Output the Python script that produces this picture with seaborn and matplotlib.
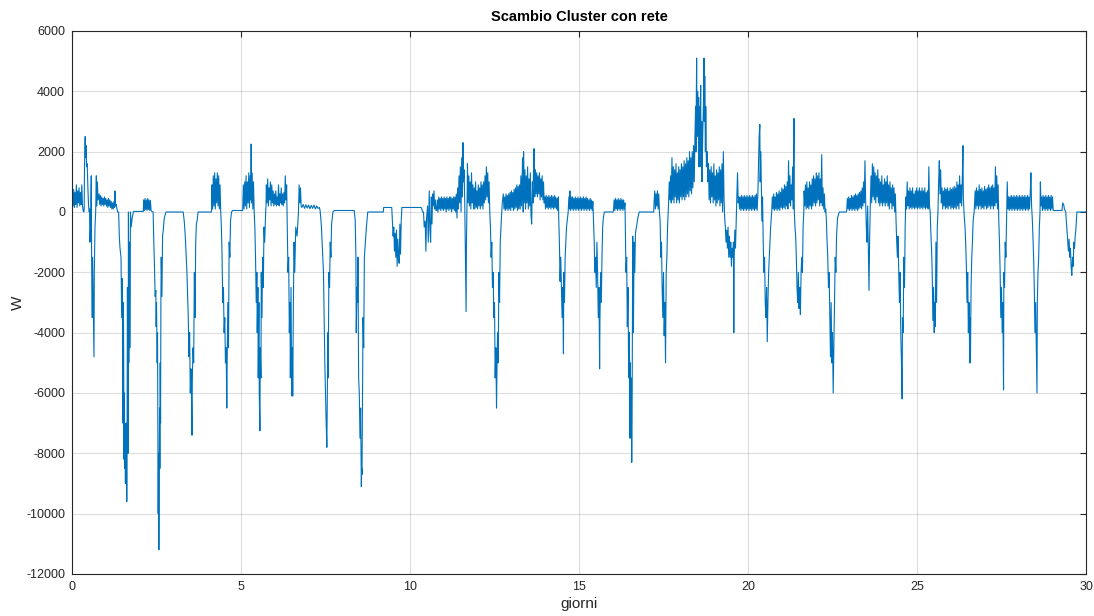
import numpy as np
import pandas as pd
import matplotlib
matplotlib.use("Agg")
import matplotlib.pyplot as plt
import seaborn as sns

# Scambio di potenza del cluster con la rete: (giorno, W)
sett1 = [
    (0.00, 300), (0.01, 700), (0.03, 200), (0.05, 750), (0.07, 150), (0.09, 650), (0.11, 250), (0.13, 900),
    (0.15, 150), (0.17, 700), (0.19, 300), (0.21, 800), (0.23, 200), (0.25, 650), (0.27, 250), (0.29, 900),
    (0.31, 200), (0.33, 50), (0.35, 0), (0.36, 100), (0.37, 1500), (0.39, 2500), (0.40, 1800), (0.42, 2200),
    (0.43, 1500), (0.45, 1600), (0.47, 800), (0.49, 200), (0.51, 0), (0.52, 100), (0.53, -1000), (0.55, -500),
    (0.57, 1200), (0.58, -1500), (0.60, -3500), (0.61, -1500), (0.63, -3200), (0.65, -4800), (0.66, -2000),
    (0.68, -500), (0.70, 0), (0.72, 1200), (0.73, 200), (0.75, 1000), (0.77, 400), (0.80, 600), (0.82, 250),
    (0.84, 550), (0.86, 200), (0.88, 500), (0.90, 250), (0.92, 450), (0.94, 200), (0.96, 500), (0.98, 250),
    (1.00, 450), (1.02, 200), (1.04, 400), (1.06, 150), (1.08, 450), (1.10, 200), (1.12, 400), (1.14, 150),
    (1.16, 350), (1.18, 100), (1.20, 300), (1.22, 100), (1.24, 350), (1.26, 150), (1.27, 700), (1.29, 200),
    (1.31, 250), (1.33, 100), (1.35, 0), (1.38, 0), (1.40, -800), (1.42, -1200), (1.45, -1500), (1.47, -3500),
    (1.49, -2200), (1.51, -7000), (1.52, -3000), (1.53, -5000), (1.54, -8200), (1.55, -6000), (1.56, -8500),
    (1.57, -7000), (1.58, -9000), (1.59, -7500), (1.60, -8800), (1.61, -7000), (1.62, -9600), (1.63, -7000),
    (1.64, -2500), (1.65, -6000), (1.66, -8000), (1.67, 0), (1.68, -5000), (1.70, -1000),
    (1.71, -4500), (1.73, 0), (1.75, -500), (1.78, -200), (1.82, 20), (2.11, 20), (2.12, 400), (2.14, 50),
    (2.16, 450), (2.18, 80), (2.20, 400), (2.22, 50), (2.24, 450), (2.26, 80), (2.28, 400), (2.30, 50),
    (2.32, 380), (2.34, 50), (2.36, 20), (2.40, 0), (2.42, -1000), (2.44, -1800), (2.46, -2800), (2.48, -2600),
    (2.49, -3800), (2.50, -3000), (2.52, -5000), (2.53, -4000), (2.54, -7000), (2.55, -10000), (2.56, -8000),
    (2.57, -11200), (2.58, -9000), (2.59, -6500), (2.60, -8500), (2.61, -5000), (2.62, -7000), (2.63, -3000),
    (2.64, -1500), (2.66, -2800), (2.68, -800), (2.70, -600), (2.73, -200), (2.78, 0), (3.29, 0), (3.32, -300),
    (3.34, -600), (3.36, -1000), (3.38, -1500), (3.40, -2000), (3.42, -2800), (3.44, -3500), (3.46, -4800),
    (3.48, -4000), (3.50, -6000), (3.52, -5200), (3.54, -6500), (3.55, -7400), (3.56, -5500), (3.58, -4500),
    (3.60, -5000), (3.62, -2000), (3.64, -3500), (3.66, -1000), (3.68, -400), (3.70, -300), (3.73, 0),
    (4.12, 0), (4.13, 50), (4.14, 900), (4.16, 100), (4.18, 1200), (4.20, 200), (4.22, 1300), (4.24, 100),
    (4.26, 1100), (4.28, 300), (4.30, 1300), (4.32, 200), (4.34, 1200), (4.36, 100), (4.38, 900), (4.40, 0),
    (4.42, -500), (4.44, -1500), (4.46, -3000), (4.48, -2500), (4.50, -4000), (4.52, -3500), (4.54, -5000),
    (4.56, -4500), (4.58, -6500), (4.59, -5000), (4.61, -3000), (4.63, -4500), (4.65, -1000), (4.67, -1500),
    (4.69, -300), (4.72, 0), (4.75, 50), (5.05, 50),
]

sett2 = [
    (5.07, 900), (5.09, 100), (5.11, 1000), (5.13, 200), (5.15, 1200), (5.17, 100), (5.19, 1000), (5.21, 300),
    (5.23, 1300), (5.25, 150), (5.27, 1200), (5.29, 400), (5.30, 2250), (5.31, 300), (5.33, 1300), (5.35, 100),
    (5.37, 1000), (5.39, 0), (5.41, -500), (5.43, -1500), (5.45, -3000), (5.47, -2000), (5.48, -4000),
    (5.50, -2500), (5.51, -5500), (5.53, -3000), (5.54, -6000), (5.56, -7250), (5.57, -4500), (5.59, -5500),
    (5.60, -2000), (5.62, -3500), (5.64, -1500), (5.66, -2500), (5.68, -500), (5.70, -1000), (5.73, 0),
    (5.74, 200), (5.75, 900), (5.77, 300), (5.79, 1100), (5.81, 200), (5.83, 800), (5.85, 400), (5.87, 1000),
    (5.89, 200), (5.91, 900), (5.93, 300), (5.95, 700), (5.97, 200), (5.99, 600), (6.01, 250), (6.03, 700),
    (6.05, 200), (6.07, 500), (6.09, 250), (6.11, 900), (6.13, 200), (6.15, 600), (6.17, 300), (6.19, 800),
    (6.21, 250), (6.23, 600), (6.25, 200), (6.27, 650), (6.29, 300), (6.31, 1200), (6.33, 400), (6.35, 900),
    (6.37, -500), (6.39, -2000), (6.41, -1500), (6.43, -4000), (6.45, -3000), (6.46, -5500), (6.48, -2500),
    (6.50, -6100), (6.52, -4500), (6.53, -6100), (6.55, -3000), (6.57, -1000), (6.59, -2000), (6.62, -500),
    (6.66, -800), (6.70, 0), (6.72, 900), (6.74, 300), (6.76, 800), (6.78, 200), (6.80, 150), (6.84, 250),
    (6.88, 120), (6.92, 240), (6.96, 130), (7.00, 230), (7.04, 110), (7.08, 220), (7.12, 120), (7.16, 230),
    (7.20, 100), (7.24, 200), (7.28, 120), (7.32, 150), (7.34, 50), (7.36, -200), (7.38, -500), (7.40, -1000),
    (7.42, -1500), (7.44, -2000), (7.46, -3500), (7.48, -5000), (7.50, -6000), (7.52, -7000), (7.54, -7800),
    (7.55, -6500), (7.57, -4000), (7.58, -5500), (7.60, -2000), (7.62, -2500), (7.64, -1000), (7.66, -1500),
    (7.68, -400), (7.72, 0), (7.76, 50), (8.35, 50), (8.38, -300), (8.40, -1500), (8.41, -4000), (8.43, -2500),
    (8.45, -3000), (8.46, -1500), (8.48, -5500), (8.50, -6000), (8.52, -7500), (8.54, -6500), (8.56, -9100),
    (8.57, -8500), (8.58, -8700), (8.60, -5000), (8.61, -3500), (8.63, -4500), (8.65, -1500), (8.68, -1000),
    (8.71, -500), (8.75, 0), (9.21, 0), (9.22, 150), (9.46, 150), (9.48, -300), (9.50, -800), (9.52, -500),
    (9.54, -1300), (9.56, -700), (9.58, -1500), (9.60, -600), (9.62, -1800), (9.64, -900), (9.66, -1500),
    (9.68, -1700), (9.70, -400), (9.72, -1400), (9.74, -300), (9.76, 150), (10.33, 150),
]

sett3 = [
    (10.35, 100), (10.37, 0), (10.40, 0), (10.42, -500), (10.45, -300), (10.47, -1300), (10.49, -200),
    (10.52, 200), (10.54, -1000), (10.57, 700), (10.59, -600), (10.61, -1000), (10.63, 500), (10.65, -400),
    (10.67, 600), (10.69, 200), (10.71, 700), (10.73, 100), (10.75, 400), (10.77, 50), (10.79, 50),
    (10.81, 400), (10.83, 0), (10.85, 500), (10.87, 100), (10.89, 450), (10.91, 50), (10.93, 500), (10.95, 100),
    (10.97, 450), (10.99, 50), (11.01, 500), (11.03, 100), (11.05, 450), (11.07, 0), (11.09, 500), (11.11, 100),
    (11.13, 450), (11.15, 50), (11.17, 500), (11.19, 100), (11.21, 500), (11.23, 0), (11.25, 450), (11.27, 100),
    (11.29, 500), (11.31, 50), (11.33, 500), (11.35, 0), (11.37, 600), (11.39, -200), (11.41, 800),
    (11.43, 100), (11.45, 1200), (11.47, 300), (11.49, 1500), (11.51, 0), (11.53, 1800), (11.55, 500),
    (11.57, 2300), (11.58, 1000), (11.60, 1400), (11.62, 300), (11.64, -1500), (11.66, -3300), (11.67, -1000),
    (11.69, 500), (11.70, 1600), (11.72, 300), (11.74, 1200), (11.76, 200), (11.78, 1000), (11.80, 100),
    (11.82, 1300), (11.84, 300), (11.86, 900), (11.88, 100), (11.90, 800), (11.92, 100), (11.94, 1000),
    (11.96, 150), (11.98, 700), (12.00, 100), (12.02, 900), (12.04, 200), (12.06, 800), (12.08, 100),
    (12.10, 1000), (12.12, 200), (12.14, 900), (12.16, 100), (12.18, 1000), (12.20, 300), (12.22, 1200),
    (12.24, 400), (12.26, 1500), (12.28, 500), (12.30, 1300), (12.32, 300), (12.34, 1000), (12.36, 0),
    (12.38, -500), (12.40, -1500), (12.42, -1000), (12.44, -2500), (12.46, -2000), (12.48, -3500),
    (12.50, -3000), (12.52, -5500), (12.54, -4500), (12.56, -6500), (12.57, -5500), (12.59, -4000),
    (12.61, -5000), (12.63, -2000), (12.65, -3000), (12.67, -1000), (12.70, -300), (12.73, 300), (12.76, 600),
    (12.78, 100), (12.80, 500), (12.82, 50), (12.84, 600), (12.86, 100), (12.88, 550), (12.90, 50), (12.92, 600),
    (12.94, 100), (12.96, 650), (12.98, 50), (13.00, 700), (13.02, 150), (13.04, 650), (13.06, 50), (13.08, 750),
    (13.10, 100), (13.12, 800), (13.14, 150), (13.16, 900), (13.18, 50), (13.20, 850), (13.22, 100),
    (13.24, 900), (13.26, 100), (13.28, 1200), (13.30, 200), (13.33, 1800), (13.35, 0), (13.36, 2000),
    (13.38, 300), (13.40, 1400), (13.42, 100), (13.44, 1200), (13.46, 300), (13.48, 1500), (13.50, 100),
    (13.52, 1100), (13.54, 200), (13.56, 1300), (13.58, -100), (13.60, -400), (13.62, 1000), (13.64, 300),
    (13.66, 1800), (13.67, 2100), (13.69, 500), (13.71, 1400), (13.73, 600), (13.75, 1300), (13.77, 500),
    (13.79, 1200), (13.81, 600), (13.83, 1300), (13.85, 400), (13.87, 1100), (13.89, 500), (13.91, 1200),
    (13.93, 400), (13.95, 1000), (13.97, 300), (13.99, 500), (14.01, 100), (14.03, 550), (14.05, 150),
    (14.07, 500), (14.09, 100), (14.11, 550), (14.13, 150), (14.15, 500), (14.17, 100), (14.19, 550),
    (14.21, 150), (14.23, 500), (14.25, 100), (14.27, 550), (14.29, 150), (14.31, 500), (14.33, 100),
    (14.35, 450), (14.37, 50), (14.39, 500), (14.40, -200), (14.42, -1000), (14.44, -2300), (14.46, -1500),
    (14.48, -2500), (14.50, -3500), (14.52, -2500), (14.54, -4700), (14.55, -2000), (14.57, -3000),
    (14.59, -1500), (14.61, -1000), (14.63, -500), (14.66, -200), (14.68, 0), (14.70, 500), (14.72, 100),
    (14.73, 700), (14.75, 50), (14.77, 500), (14.79, 100), (14.81, 500), (14.83, 50), (14.85, 450),
    (14.87, 100), (14.89, 500), (14.91, 50), (14.93, 450), (14.95, 100), (14.97, 500), (14.99, 50),
    (15.01, 450), (15.03, 100), (15.05, 500), (15.07, 50), (15.09, 450), (15.11, 100), (15.13, 500),
    (15.15, 50), (15.17, 450), (15.19, 100), (15.21, 500), (15.23, 50), (15.25, 450), (15.27, 100),
    (15.29, 400), (15.31, 50), (15.33, 450), (15.35, 100), (15.37, 400), (15.39, 50), (15.41, 350),
]

sett4 = [
    (15.43, -300), (15.45, -1000), (15.47, -2000), (15.49, -1500), (15.51, -2500), (15.53, -1000),
    (15.55, -2000), (15.57, -3500), (15.59, -2500), (15.61, -5200), (15.62, -3500), (15.64, -2000),
    (15.66, -3000), (15.68, -1500), (15.70, -500), (15.72, -200), (15.75, 0), (16.01, 0), (16.02, 50),
    (16.04, 400), (16.06, 50), (16.08, 450), (16.10, 100), (16.12, 400), (16.14, 50), (16.16, 450), (16.18, 100),
    (16.20, 400), (16.22, 50), (16.24, 450), (16.26, 100), (16.28, 400), (16.30, 50), (16.32, 400), (16.34, 100),
    (16.36, 300), (16.37, -500), (16.39, -2000), (16.41, -1500), (16.43, -3800), (16.45, -2500), (16.47, -5500),
    (16.49, -4000), (16.51, -7500), (16.52, -5000), (16.53, -7000), (16.54, -5500), (16.56, -8300),
    (16.57, -7000), (16.58, -4000), (16.59, -800), (16.61, -4000), (16.63, -1000), (16.65, -2000),
    (16.67, -700), (16.70, -500), (16.74, -200), (16.78, 0), (17.21, 0), (17.22, 300), (17.24, 700),
    (17.26, 100), (17.28, 600), (17.30, 200), (17.32, 700), (17.34, 100), (17.36, 600), (17.38, 0),
    (17.40, -300), (17.42, -1500), (17.44, -1000), (17.46, -2500), (17.48, -3500), (17.50, -2000),
    (17.52, -4100), (17.54, -3000), (17.56, -5000), (17.58, -2000), (17.60, -1500), (17.62, -500), (17.64, 0),
    (17.65, 300), (17.67, 1000), (17.69, 400), (17.71, 1200), (17.73, 300), (17.75, 1800), (17.77, 400),
    (17.79, 1500), (17.81, 300), (17.83, 1400), (17.85, 500), (17.87, 1600), (17.89, 300), (17.91, 1300),
    (17.93, 400), (17.95, 1500), (17.97, 300), (17.99, 1400), (18.01, 500), (18.03, 1600), (18.05, 400),
    (18.07, 1500), (18.09, 500), (18.11, 1700), (18.13, 400), (18.15, 1600), (18.17, 500), (18.19, 1800),
    (18.21, 600), (18.23, 1700), (18.25, 500), (18.27, 2000), (18.29, 700), (18.31, 1800), (18.33, 600),
    (18.35, 2000), (18.37, 800), (18.39, 2200), (18.41, 1000), (18.43, 2500), (18.45, 3500), (18.46, 2000),
    (18.48, 5100), (18.49, 3000), (18.51, 4000), (18.52, 2500), (18.54, 3800), (18.55, 1500), (18.57, 3500),
    (18.58, 2000), (18.60, 4200), (18.61, 1500), (18.63, 3000), (18.64, 1000), (18.66, 2500), (18.68, 3500),
    (18.70, 5100), (18.71, 3000), (18.72, 4500), (18.74, 2000), (18.75, 3500), (18.77, 1500), (18.79, 2000),
    (18.81, 1000), (18.83, 1600), (18.85, 400), (18.87, 1400), (18.89, 300), (18.91, 1500), (18.93, 500),
    (18.95, 1300), (18.97, 300), (18.99, 1600), (19.01, 400), (19.03, 1200), (19.05, 200), (19.07, 1400),
    (19.09, 300), (19.11, 1300), (19.13, 400), (19.15, 1500), (19.17, 200), (19.19, 1400), (19.21, 300),
    (19.23, 1600), (19.25, 0), (19.27, 2000), (19.29, 500), (19.31, -200), (19.33, -500), (19.35, -1000),
    (19.37, -600), (19.39, -1200), (19.41, -500), (19.43, -1500), (19.45, -800), (19.47, -1500), (19.49, -1000),
    (19.51, -1800), (19.53, -1200), (19.55, -1500), (19.57, -1000), (19.58, -4000), (19.59, -1500),
    (19.61, -600), (19.63, -1200), (19.65, -300), (19.67, 500), (19.69, 1300), (19.71, 300), (19.73, 500),
    (19.75, 100), (19.77, 500), (19.79, 50), (19.81, 550), (19.83, 100), (19.85, 500), (19.87, 50),
    (19.89, 550), (19.91, 100), (19.93, 500), (19.95, 50), (19.97, 550), (19.99, 100), (20.01, 500),
    (20.03, 50), (20.05, 550), (20.07, 100), (20.09, 500), (20.11, 50), (20.13, 550), (20.15, 100),
    (20.17, 500), (20.19, 50), (20.21, 550), (20.23, 100), (20.25, 600), (20.27, 50), (20.29, 500),
]

sett5 = [
    (20.31, 1500), (20.33, 2500), (20.35, 2900), (20.36, 1000), (20.38, 2000), (20.40, 500), (20.42, -300),
    (20.43, 500), (20.45, -1000), (20.47, -2000), (20.49, -1500), (20.51, -3000), (20.53, -3500),
    (20.55, -2500), (20.57, -4300), (20.59, -3000), (20.61, -2000), (20.63, -1500), (20.65, -1000),
    (20.67, -500), (20.70, 0), (20.72, 500), (20.74, 100), (20.76, 600), (20.78, 50), (20.80, 500), (20.82, 100),
    (20.84, 650), (20.86, 50), (20.88, 600), (20.90, 100), (20.92, 700), (20.94, 50), (20.96, 650), (20.98, 150),
    (21.00, 800), (21.02, 100), (21.04, 750), (21.06, 150), (21.08, 900), (21.10, 100), (21.12, 850),
    (21.14, 200), (21.16, 1000), (21.18, 100), (21.20, 1700), (21.22, 300), (21.24, 1200), (21.26, 200),
    (21.28, 900), (21.30, 400), (21.32, 1500), (21.34, 100), (21.36, 3100), (21.37, 0), (21.39, -500),
    (21.41, -800), (21.43, -1500), (21.45, -2500), (21.47, -3000), (21.49, -2000), (21.51, -3200),
    (21.53, -2500), (21.55, -3400), (21.57, -2000), (21.59, -1500), (21.61, -2000), (21.63, -500), (21.65, 0),
    (21.66, 700), (21.68, 200), (21.70, 900), (21.72, 100), (21.74, 1000), (21.76, 150), (21.78, 800),
    (21.80, 100), (21.82, 1000), (21.84, 200), (21.86, 900), (21.88, 100), (21.90, 1100), (21.92, 200),
    (21.94, 1200), (21.96, 300), (21.98, 1100), (22.00, 200), (22.02, 1300), (22.04, 300), (22.06, 1200),
    (22.08, 400), (22.10, 1300), (22.12, 200), (22.14, 1100), (22.16, 300), (22.18, 1900), (22.20, 200),
    (22.22, 800), (22.24, 100), (22.26, 600), (22.28, 0), (22.30, 100), (22.32, -300), (22.34, -1000),
    (22.36, -1500), (22.38, -2500), (22.40, -2000), (22.42, -3500), (22.44, -4800), (22.46, -3000),
    (22.48, -5000), (22.50, -4000), (22.52, -6000), (22.54, -4500), (22.56, -3000), (22.58, -1500),
    (22.60, -2000), (22.62, -800), (22.65, -200), (22.70, 0), (22.91, 0), (22.92, 50), (22.94, 450),
    (22.96, 100), (22.98, 500), (23.00, 50), (23.02, 450), (23.04, 100), (23.06, 550), (23.08, 50), (23.10, 500),
    (23.12, 100), (23.14, 550), (23.16, 50), (23.18, 600), (23.20, 100), (23.22, 550), (23.24, 50), (23.26, 600),
    (23.28, 100), (23.30, 650), (23.32, 150), (23.34, 700), (23.36, 100), (23.38, 800), (23.40, 200),
    (23.42, 1000), (23.44, 300), (23.46, 1700), (23.48, 400), (23.50, -500), (23.52, -1000), (23.54, 200),
    (23.56, -1200), (23.58, -2600), (23.60, -800), (23.62, 300), (23.64, 1200), (23.66, 300), (23.68, 1600),
    (23.70, 500), (23.72, 1500), (23.74, 400), (23.76, 1300), (23.78, 300), (23.80, 1200), (23.82, 500),
    (23.84, 1400), (23.86, 300), (23.88, 1100), (23.90, 200), (23.92, 1000), (23.94, 300), (23.96, 1200),
    (23.98, 200), (24.00, 900), (24.02, 300), (24.04, 1100), (24.06, 200), (24.08, 1000), (24.10, 300),
    (24.12, 1200), (24.14, 200), (24.16, 900), (24.18, 100), (24.20, 1000), (24.22, 300), (24.24, 800),
    (24.26, 100), (24.28, 900), (24.30, 200), (24.32, 800), (24.34, 0), (24.36, 600), (24.38, -300),
    (24.40, -1000), (24.42, -1500), (24.44, -800), (24.46, -2000), (24.48, -3000), (24.50, -2000),
    (24.52, -4000), (24.54, -5000), (24.56, -6200), (24.57, -3500), (24.59, -4000), (24.61, -1500),
    (24.63, -2500), (24.65, -500), (24.67, 500), (24.69, 100), (24.71, 1000), (24.73, 200), (24.75, 700),
    (24.77, 100), (24.79, 800), (24.81, 150), (24.83, 700), (24.85, 100), (24.87, 800), (24.89, 150),
    (24.91, 600), (24.93, 100), (24.95, 700), (24.97, 150), (24.99, 800), (25.01, 100), (25.03, 700),
    (25.05, 150), (25.07, 800), (25.09, 100), (25.11, 700), (25.13, 150), (25.15, 800), (25.17, 100),
    (25.19, 700), (25.21, 150), (25.23, 800), (25.25, 100), (25.27, 650), (25.29, 150), (25.31, 700),
    (25.33, 100), (25.35, 1500), (25.37, 200),
]

sett6 = [
    (25.39, 0), (25.41, -700), (25.43, -1200), (25.45, -2000), (25.47, -3600), (25.49, -2500), (25.51, -4000),
    (25.52, -3000), (25.54, -3800), (25.56, -1000), (25.58, -3000), (25.60, -500), (25.62, 0), (25.64, 1000),
    (25.66, 1700), (25.68, 600), (25.70, 1400), (25.72, 300), (25.74, 800), (25.76, 100), (25.78, 700),
    (25.80, 200), (25.82, 800), (25.84, 100), (25.86, 750), (25.88, 150), (25.90, 800), (25.92, 100),
    (25.94, 700), (25.96, 200), (25.98, 800), (26.00, 100), (26.02, 750), (26.04, 150), (26.06, 800),
    (26.08, 100), (26.10, 850), (26.12, 150), (26.14, 800), (26.16, 100), (26.18, 1000), (26.20, 200),
    (26.22, 900), (26.24, 100), (26.26, 1200), (26.28, 300), (26.30, 900), (26.32, 200), (26.34, 1100),
    (26.36, 2200), (26.37, 500), (26.39, 0), (26.42, -500), (26.44, -1000), (26.46, -1800), (26.48, -3000),
    (26.50, -2000), (26.52, -4000), (26.54, -3000), (26.56, -5000), (26.57, -3500), (26.58, -5000),
    (26.60, -2500), (26.62, -1500), (26.64, -1000), (26.66, -300), (26.69, 0), (26.70, 200), (26.72, 700),
    (26.74, 100), (26.76, 800), (26.78, 200), (26.80, 700), (26.82, 100), (26.84, 900), (26.86, 200),
    (26.88, 750), (26.90, 100), (26.92, 800), (26.94, 150), (26.96, 700), (26.98, 100), (27.00, 850),
    (27.02, 200), (27.04, 750), (27.06, 100), (27.08, 800), (27.10, 150), (27.12, 900), (27.14, 200),
    (27.16, 800), (27.18, 100), (27.20, 850), (27.22, 200), (27.24, 900), (27.26, 100), (27.28, 800),
    (27.30, 200), (27.32, 1500), (27.34, 300), (27.36, 1200), (27.38, 100), (27.40, 900), (27.42, -300),
    (27.44, -1000), (27.46, -2000), (27.48, -3500), (27.50, -2500), (27.52, -4000), (27.54, -3000),
    (27.56, -5900), (27.57, -2000), (27.59, -2500), (27.61, -1000), (27.63, -1500), (27.65, -300),
    (27.67, 1000), (27.69, 100), (27.71, 500), (27.73, 50), (27.75, 500), (27.77, 100), (27.79, 550),
    (27.81, 50), (27.83, 500), (27.85, 100), (27.87, 550), (27.89, 50), (27.91, 500), (27.93, 100), (27.95, 550),
    (27.97, 50), (27.99, 500), (28.01, 100), (28.03, 550), (28.05, 50), (28.07, 500), (28.09, 100), (28.11, 550),
    (28.13, 50), (28.15, 500), (28.17, 100), (28.19, 550), (28.21, 50), (28.23, 500), (28.25, 100), (28.27, 550),
    (28.29, 50), (28.31, 500), (28.33, 100), (28.35, 600), (28.37, 1300), (28.39, 200), (28.41, -200),
    (28.43, -800), (28.45, -1500), (28.47, -2500), (28.49, -4000), (28.51, -3000), (28.53, -4500),
    (28.55, -6000), (28.56, -3000), (28.58, -2000), (28.60, -1500), (28.62, -500), (28.64, 0), (28.65, 1000),
    (28.67, 200), (28.69, 500), (28.71, 50), (28.73, 550), (28.75, 100), (28.77, 500), (28.79, 50), (28.81, 550),
    (28.83, 100), (28.85, 500), (28.87, 50), (28.89, 550), (28.91, 100), (28.93, 500), (28.95, 50), (28.97, 550),
    (28.99, 100), (29.01, 500), (29.03, 50), (29.29, 50), (29.31, 300), (29.34, 250), (29.36, 100), (29.40, 0),
    (29.43, -500), (29.46, -1000), (29.48, -1300), (29.50, -900), (29.52, -1500), (29.54, -1200),
    (29.56, -1800), (29.58, -2100), (29.60, -1500), (29.62, -1800), (29.64, -1000), (29.66, -1200),
    (29.68, -800), (29.70, -600), (29.73, 0), (30.00, 0),
]

x_ticks = [0, 5, 10, 15, 20, 25, 30]
y_ticks = [-12000, -10000, -8000, -6000, -4000, -2000, 0, 2000, 4000, 6000]

serie = pd.DataFrame(sett1 + sett2 + sett3 + sett4 + sett5 + sett6, columns=["giorni", "W"])

sns.set_style("white")
plt.rcParams["font.family"] = ["Liberation Sans", "DejaVu Sans"]

axis_grey = "#262626"
fig = plt.figure(figsize=(10.94, 6.16), dpi=100)
ax = fig.add_axes([72 / 1094, 1 - 574 / 616, (1086 - 72) / 1094, (574 - 31) / 616])

sns.lineplot(data=serie, x="giorni", y="W", ax=ax, color="#0072BD", linewidth=0.8,
             estimator=None, sort=False)

ax.set_xlim(0, 30)
ax.set_ylim(-12000, 6000)
ax.set_xticks(x_ticks)
ax.set_yticks(y_ticks)
ax.set_xticklabels([str(t) for t in x_ticks])
ax.set_yticklabels([str(t) for t in y_ticks])
ax.grid(True, color=axis_grey, alpha=0.15, linewidth=0.8)
ax.set_axisbelow(True)
for side in ax.spines.values():
    side.set_color(axis_grey)
    side.set_linewidth(0.8)
ax.tick_params(direction="in", top=True, right=True, length=4, width=0.8,
               colors=axis_grey, labelsize=9, pad=5)

ax.set_title("Scambio Cluster con rete", fontsize=10.5, fontweight="bold", color="black", pad=7)
ax.set_xlabel("giorni", fontsize=11, color=axis_grey, labelpad=3)
ax.set_ylabel("W", fontsize=11, color=axis_grey, labelpad=1)

fig.savefig("out.png", dpi=100)
